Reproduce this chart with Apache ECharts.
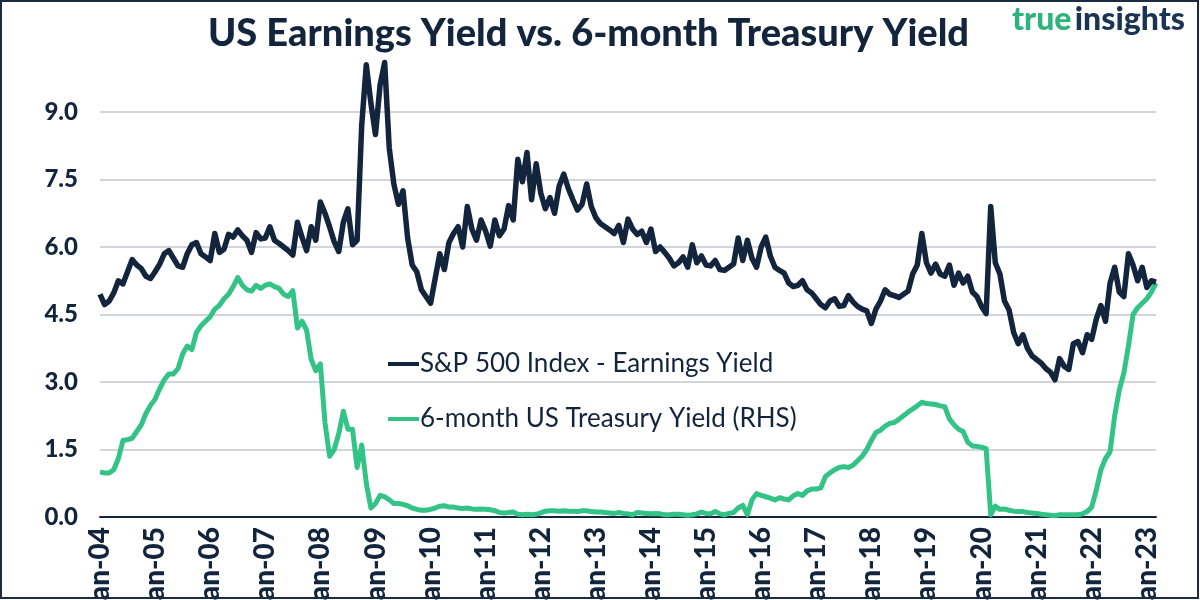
<!DOCTYPE html>
<html>
<head>
<meta charset="utf-8">
<title>US Earnings Yield vs. 6-month Treasury Yield</title>
<script src="https://cdn.jsdelivr.net/npm/echarts@6/dist/echarts.min.js"></script>
<style>
  html, body { margin: 0; padding: 0; background: #fff; }
  #chart { width: 1200px; height: 600px; }
</style>
</head>
<body>
<div id="chart"></div>
<script>
// monthly readings, Jan-04 .. Mar-23
const monthNames = ['Jan', 'Feb', 'Mar', 'Apr', 'May', 'Jun', 'Jul', 'Aug', 'Sep', 'Oct', 'Nov', 'Dec']
const firstYear = 2004

// S&P 500 earnings yield (%)
const earningsYield = [
  4.95, 4.72, 4.80, 4.98, 5.25, 5.18, 5.45, 5.72, 5.60, 5.52, 5.35, 5.30, // 2004
  5.45, 5.62, 5.85, 5.92, 5.75, 5.58, 5.55, 5.85, 6.05, 6.10, 5.85, 5.78, // 2005
  5.70, 6.30, 5.88, 5.95, 6.28, 6.22, 6.38, 6.25, 6.15, 5.88, 6.32, 6.18, // 2006
  6.20, 6.45, 6.15, 6.08, 6.00, 5.92, 5.82, 6.55, 6.22, 5.92, 6.45, 6.15, // 2007
  7.00, 6.75, 6.45, 6.12, 5.90, 6.55, 6.85, 6.05, 6.15, 8.70, 10.05, 9.20, // 2008
  8.50, 9.60, 10.10, 8.20, 7.40, 6.95, 7.25, 6.20, 5.60, 5.45, 5.05, 4.90, // 2009
  4.75, 5.30, 5.85, 5.50, 6.10, 6.30, 6.45, 6.00, 6.90, 6.40, 6.15, 6.60, // 2010
  6.35, 6.02, 6.60, 6.25, 6.40, 6.92, 6.60, 7.95, 7.45, 8.10, 7.05, 7.85, // 2011
  7.20, 6.85, 7.10, 6.75, 7.35, 7.62, 7.30, 7.05, 6.82, 6.95, 7.40, 6.90, // 2012
  6.65, 6.52, 6.45, 6.38, 6.30, 6.48, 6.10, 6.62, 6.40, 6.28, 6.35, 6.10, // 2013
  6.40, 5.90, 6.00, 5.88, 5.75, 5.58, 5.65, 5.78, 5.55, 6.05, 5.65, 5.80, // 2014
  5.60, 5.58, 5.70, 5.50, 5.48, 5.55, 5.62, 6.20, 5.70, 6.15, 5.75, 5.55, // 2015
  6.00, 6.22, 5.80, 5.55, 5.48, 5.42, 5.20, 5.12, 5.15, 5.25, 5.05, 4.98, // 2016
  4.85, 4.72, 4.65, 4.80, 4.85, 4.68, 4.70, 4.92, 4.78, 4.68, 4.62, 4.58, // 2017
  4.30, 4.62, 4.80, 5.05, 4.95, 4.92, 4.88, 4.95, 5.02, 5.40, 5.60, 6.30, // 2018
  5.65, 5.42, 5.62, 5.40, 5.35, 5.60, 5.15, 5.42, 5.20, 5.35, 5.00, 4.90, // 2019
  4.68, 4.52, 6.90, 5.65, 5.40, 4.80, 4.60, 4.10, 3.85, 4.05, 3.75, 3.58, // 2020
  3.50, 3.42, 3.30, 3.22, 3.05, 3.52, 3.35, 3.28, 3.85, 3.90, 3.65, 4.05, // 2021
  3.95, 4.40, 4.70, 4.35, 5.20, 5.55, 5.00, 4.90, 5.85, 5.60, 5.25, 5.55, // 2022
  5.10, 5.25, 5.22                                                        // 2023
]

// 6-month US Treasury yield (%)
const treasury6m = [
  1.00, 0.98, 0.98, 1.05, 1.30, 1.70, 1.72, 1.75, 1.90, 2.05, 2.30, 2.48, // 2004
  2.62, 2.85, 3.05, 3.18, 3.18, 3.30, 3.62, 3.80, 3.72, 4.10, 4.25, 4.35, // 2005
  4.45, 4.62, 4.70, 4.85, 4.95, 5.12, 5.32, 5.15, 5.05, 5.02, 5.15, 5.08, // 2006
  5.15, 5.18, 5.12, 5.08, 4.95, 4.90, 5.03, 4.20, 4.35, 4.15, 3.50, 3.25, // 2007
  3.40, 2.10, 1.35, 1.50, 1.85, 2.35, 1.95, 1.95, 1.10, 1.60, 0.75, 0.20, // 2008
  0.30, 0.48, 0.45, 0.38, 0.30, 0.30, 0.28, 0.25, 0.20, 0.17, 0.15, 0.15, // 2009
  0.17, 0.20, 0.24, 0.25, 0.22, 0.22, 0.20, 0.19, 0.20, 0.18, 0.17, 0.18, // 2010
  0.17, 0.16, 0.14, 0.10, 0.09, 0.10, 0.11, 0.06, 0.05, 0.06, 0.05, 0.06, // 2011
  0.09, 0.13, 0.14, 0.14, 0.13, 0.14, 0.13, 0.13, 0.12, 0.14, 0.14, 0.12, // 2012
  0.11, 0.11, 0.10, 0.09, 0.08, 0.10, 0.08, 0.07, 0.05, 0.10, 0.09, 0.08, // 2013
  0.07, 0.08, 0.07, 0.05, 0.05, 0.06, 0.06, 0.05, 0.04, 0.05, 0.07, 0.11, // 2014
  0.08, 0.07, 0.12, 0.07, 0.05, 0.08, 0.10, 0.20, 0.26, 0.05, 0.38, 0.52, // 2015
  0.48, 0.45, 0.42, 0.38, 0.43, 0.40, 0.38, 0.47, 0.52, 0.48, 0.58, 0.62, // 2016
  0.62, 0.65, 0.90, 0.98, 1.05, 1.10, 1.12, 1.10, 1.15, 1.25, 1.35, 1.50, // 2017
  1.70, 1.88, 1.93, 2.02, 2.08, 2.10, 2.17, 2.25, 2.33, 2.40, 2.47, 2.55, // 2018
  2.52, 2.51, 2.50, 2.47, 2.45, 2.18, 2.05, 1.95, 1.90, 1.66, 1.58, 1.57, // 2019
  1.55, 1.52, 0.05, 0.24, 0.17, 0.18, 0.15, 0.13, 0.12, 0.12, 0.10, 0.09, // 2020
  0.08, 0.06, 0.05, 0.04, 0.03, 0.05, 0.05, 0.05, 0.05, 0.05, 0.07, 0.12, // 2021
  0.22, 0.60, 1.05, 1.30, 1.45, 2.25, 2.82, 3.20, 3.80, 4.50, 4.65, 4.75, // 2022
  4.85, 5.00, 5.20                                                        // 2023
]

const navy = '#13243d'
const green = '#33c387'
const font = 'Lato'

// "Jan-04", "Feb-04", ...
let months = earningsYield.map(function (v, i) {
  let yy = String((firstYear + Math.floor(i / 12)) % 100).padStart(2, '0')
  return monthNames[i % 12] + '-' + yy
})

let chart = echarts.init(document.getElementById('chart'), null, {renderer: 'canvas'})

chart.setOption({
  animation: false,
  backgroundColor: '#fff',
  title: {
    text: 'US Earnings Yield vs. 6-month Treasury Yield',
    left: 203,
    top: 10,
    textStyle: {fontFamily: font, fontSize: 38, fontWeight: 900, color: navy}
  },
  graphic: [
    {
      type: 'text',
      left: 1012,
      top: 4,
      style: {
        text: '{a|true} {b|insights}',
        rich: {
          a: {fontFamily: font, fontSize: 32, fontWeight: 900, fill: '#2fb37c'},
          b: {fontFamily: font, fontSize: 32, fontWeight: 900, fill: '#1c3454'}
        }
      }
    },
    {
      type: 'rect',
      shape: {x: 1, y: 1, width: 1197, height: 597},
      style: {fill: null, stroke: '#1b2b42', lineWidth: 2},
      z: 100
    }
  ],
  legend: {
    orient: 'vertical',
    left: 383,
    top: 346,
    icon: 'rect',
    itemWidth: 31,
    itemHeight: 4,
    itemGap: 29,
    textStyle: {fontFamily: font, fontSize: 26, color: navy, padding: [0, 0, 0, -4]},
    data: ['S&P 500 Index - Earnings Yield', '6-month US Treasury Yield (RHS)']
  },
  grid: {left: 100, right: 44, top: 112, bottom: 83, outerBoundsMode: 'none', containLabel: false},
  xAxis: {
    type: 'category',
    data: months,
    boundaryGap: false,
    axisLine: {lineStyle: {color: navy, width: 2}},
    axisTick: {show: false},
    axisLabel: {
      interval: function (i) { return i % 12 === 0 },
      rotate: 90,
      margin: 10,
      fontFamily: font,
      fontSize: 28,
      fontWeight: 900,
      color: navy
    },
    splitLine: {show: false}
  },
  yAxis: [
    {
      type: 'value',
      min: 0,
      max: 9,
      interval: 1.5,
      axisLine: {show: false},
      axisTick: {show: false},
      axisLabel: {
        margin: 22,
        fontFamily: font,
        fontSize: 24,
        fontWeight: 900,
        color: navy,
        formatter: function (v) { return v.toFixed(1) }
      },
      splitLine: {lineStyle: {color: '#c3c7cf', width: 1.5}}
    },
    {
      type: 'value',
      min: 0,
      max: 9,
      interval: 1.5,
      show: false,
      splitLine: {show: false}
    }
  ],
  series: [
    {
      name: 'S&P 500 Index - Earnings Yield',
      type: 'line',
      data: earningsYield,
      yAxisIndex: 0,
      showSymbol: false,
      symbol: 'none',
      clip: false,
      color: navy,
      lineStyle: {color: navy, width: 5.5, join: 'round'},
      z: 3
    },
    {
      name: '6-month US Treasury Yield (RHS)',
      type: 'line',
      data: treasury6m,
      yAxisIndex: 1,
      showSymbol: false,
      symbol: 'none',
      clip: false,
      color: green,
      lineStyle: {color: green, width: 5, join: 'round'},
      z: 2
    }
  ]
})
</script>
</body>
</html>
